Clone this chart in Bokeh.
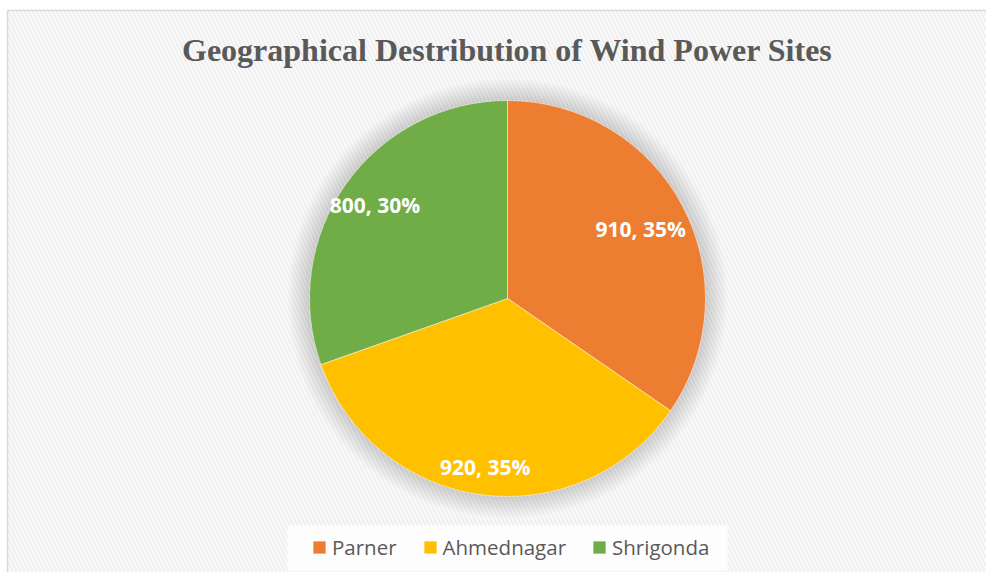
import numpy as np
from bokeh.plotting import figure
from bokeh.models import Range1d, Legend, LegendItem, ColumnDataSource
from bokeh.core.properties import value
from bokeh.embed import file_html
from bokeh.resources import INLINE

# ---- data ----
categories = ["Parner", "Ahmednagar", "Shrigonda"]
values = [910, 920, 800]
colors = ["#ED7D31", "#FFC000", "#70AD47"]
title_text = "Geographical Destribution of Wind Power Sites"

# ---- layout / style constants ----
W, H = 986, 572
CX, CY, R = 507, 274, 198
label_r = [0.76, 0.86, 0.82]   # label distance from centre (fraction of radius)

p = figure(width=W, height=H, x_range=Range1d(0, W), y_range=Range1d(0, H),
           output_backend="svg", toolbar_location=None, min_border=0,
           x_axis_location=None, y_axis_location=None)
p.grid.visible = False
p.outline_line_color = None
p.background_fill_color = "white"
p.border_fill_color = "white"

# chart area with diagonal stripes
p.quad(left=7, right=W + 4, bottom=-4, top=H - 10, fill_color="white",
       line_color="#d9d9d9", line_width=1.5,
       hatch_pattern="\\", hatch_color="#f0f0f0", hatch_weight=2.5, hatch_scale=8)

# legend box
p.quad(left=287, right=727, bottom=2, top=47, fill_color="white", fill_alpha=0.85, line_color=None)

# soft shadow around pie
for k in range(14):
    p.circle(x=[CX], y=[CY], radius=R + 1 + k * 1.6, fill_color="black",
             fill_alpha=0.011, line_color=None)

vals = np.array(values, dtype=float)
frac = vals / vals.sum()
ends = np.cumsum(frac)
starts = ends - frac
start_angle = np.pi / 2 - ends * 2 * np.pi
end_angle = np.pi / 2 - starts * 2 * np.pi
mid = (start_angle + end_angle) / 2
labels = [f"{v}, {round(f * 100):.0f}%" for v, f in zip(values, frac)]
lr = np.array(label_r) * R

src = ColumnDataSource(dict(
    cat=categories, val=values, color=colors,
    start=start_angle, end=end_angle,
    x=[CX] * len(values), y=[CY] * len(values),
    lx=CX + lr * np.cos(mid), ly=CY + lr * np.sin(mid),
    label=labels,
))

wr = p.wedge(x="x", y="y", radius=R, start_angle="start", end_angle="end",
             fill_color="color", line_color="white", line_width=0.5, source=src)

p.text(x="lx", y="ly", text="label", source=src, text_color="white",
       text_font=value("Open Sans"), text_font_style="bold", text_font_size="21px",
       text_align="center", text_baseline="middle")

# title
p.text(x=[CX], y=[523], text=[title_text], text_color="#595959",
       text_font=value("Liberation Serif"), text_font_style="bold",
       text_font_size="32px", text_align="center", text_baseline="alphabetic")

items = [LegendItem(label=c, renderers=[wr], index=i) for i, c in enumerate(categories)]
legend = Legend(items=items, orientation="horizontal", location=(301, 1),
                glyph_width=16, glyph_height=16, label_standoff=5, spacing=25,
                label_text_font="Open Sans", label_text_font_size="20.5px",
                label_text_color="#595959", padding=10, margin=0,
                background_fill_alpha=0, border_line_alpha=0)
p.add_layout(legend, "center")

open("out.html", "w").write(file_html(p, INLINE))
